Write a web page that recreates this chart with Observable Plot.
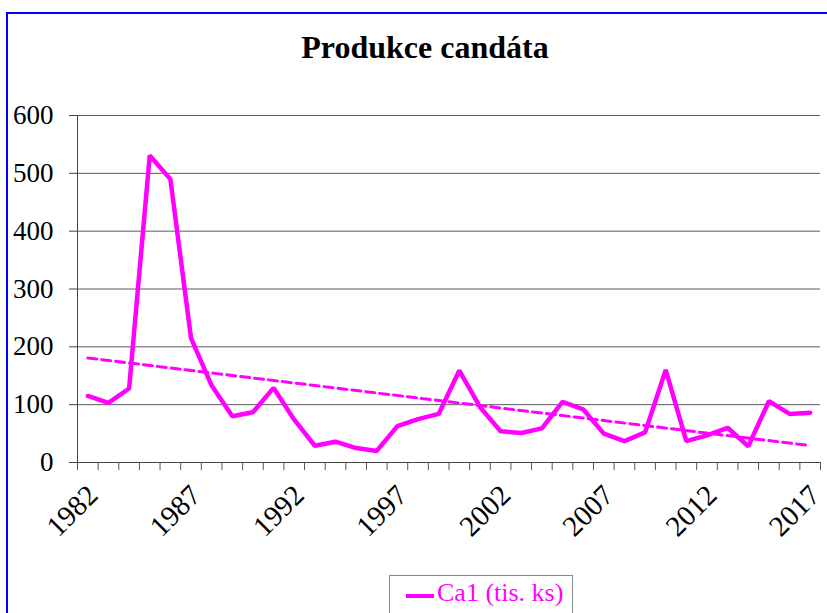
<!DOCTYPE html>
<html>
<head>
<meta charset="utf-8">
<script src="https://cdn.jsdelivr.net/npm/d3@7"></script>
<script src="https://cdn.jsdelivr.net/npm/@observablehq/plot@0.6"></script>
<style>
  html, body { margin: 0; padding: 0; background: #fff; width: 827px; height: 613px; overflow: hidden; }
  #frame { position: absolute; left: 6px; top: 12px; width: 900px; height: 700px; border-left: 2px solid #0000ff; border-top: 2px solid #0000ff; box-sizing: border-box; }
  #title { position: absolute; left: 0; width: 850px; top: 27px; text-align: center; font-family: "Liberation Serif", "Times New Roman", serif; font-weight: bold; font-size: 32px; line-height: 40px; color: #000; }
  #chart { position: absolute; left: 0; top: 90px; }
  #legend { position: absolute; left: 389px; top: 575px; width: 184px; height: 60px; border: 1px solid #888; box-sizing: border-box; font-family: "Liberation Serif", "Times New Roman", serif; font-size: 26px; color: #ff00ff; }
  #legend .sw { position: absolute; left: 16px; top: 18px; width: 28px; height: 4px; background: #ff00ff; }
  #legend .lb { position: absolute; left: 47px; top: 2px; white-space: nowrap; }
</style>
</head>
<body>
<div id="frame"></div>
<div id="title">Produkce candáta</div>
<div id="chart"></div>
<div id="legend"><span class="sw"></span><span class="lb">Ca1 (tis. ks)</span></div>
<script>
const years = [1982,1983,1984,1985,1986,1987,1988,1989,1990,1991,1992,1993,1994,1995,1996,1997,1998,1999,2000,2001,2002,2003,2004,2005,2006,2007,2008,2009,2010,2011,2012,2013,2014,2015,2016,2017];
const ca1 = [115,103,128,531,490,215,133,80,87,129,74,29,36,25,20,63,75,84,159,96,54,51,59,105,92,50,37,52,160,37,47,60,28,106,84,86];
const yTicks = [0,100,200,300,400,500,600];
const xLabelYears = [1982,1987,1992,1997,2002,2007,2012,2017];

const data = years.map((y, i) => ({year: y, value: ca1[i]}));
const boundaries = d3.range(years[0] - 0.5, years[years.length - 1] + 1, 1);
const font = '"Liberation Serif", "Times New Roman", serif';

const chart = Plot.plot({
  width: 827,
  height: 470,
  marginLeft: 77,
  marginRight: 7,
  marginTop: 25,
  marginBottom: 98,
  style: {fontFamily: font, fontSize: "27px", color: "#000", background: "transparent", overflow: "visible"},
  x: {domain: [years[0] - 0.5, years[years.length - 1] + 0.5]},
  y: {domain: [0, 600]},
  marks: [
    Plot.gridY(yTicks, {stroke: "#5a5a5a", strokeOpacity: 1, strokeWidth: 1}),
    Plot.axisY({ticks: yTicks, tickSize: 8, tickPadding: 16, stroke: "#444", fill: "#000", fontSize: 27, label: null}),
    Plot.axisX({ticks: boundaries, tickSize: 8, tickFormat: () => "", stroke: "#555", label: null}),
    Plot.axisX({ticks: xLabelYears, tickSize: 0, tickRotate: -45, tickPadding: 28, dx: 5, tickFormat: d => String(d), fontSize: 29, fill: "#000", label: null}),
    Plot.ruleY([0], {stroke: "#444"}),
    Plot.ruleX([years[0] - 0.5], {stroke: "#444"}),
    Plot.linearRegressionY(data, {x: "year", y: "value", stroke: "#ff00ff", strokeWidth: 3, strokeDasharray: "9,5", ci: 0}),
    Plot.line(data, {x: "year", y: "value", stroke: "#ff00ff", strokeWidth: 4.5, strokeLinejoin: "miter"})
  ]
});
document.getElementById("chart").appendChild(chart);
</script>
</body>
</html>
